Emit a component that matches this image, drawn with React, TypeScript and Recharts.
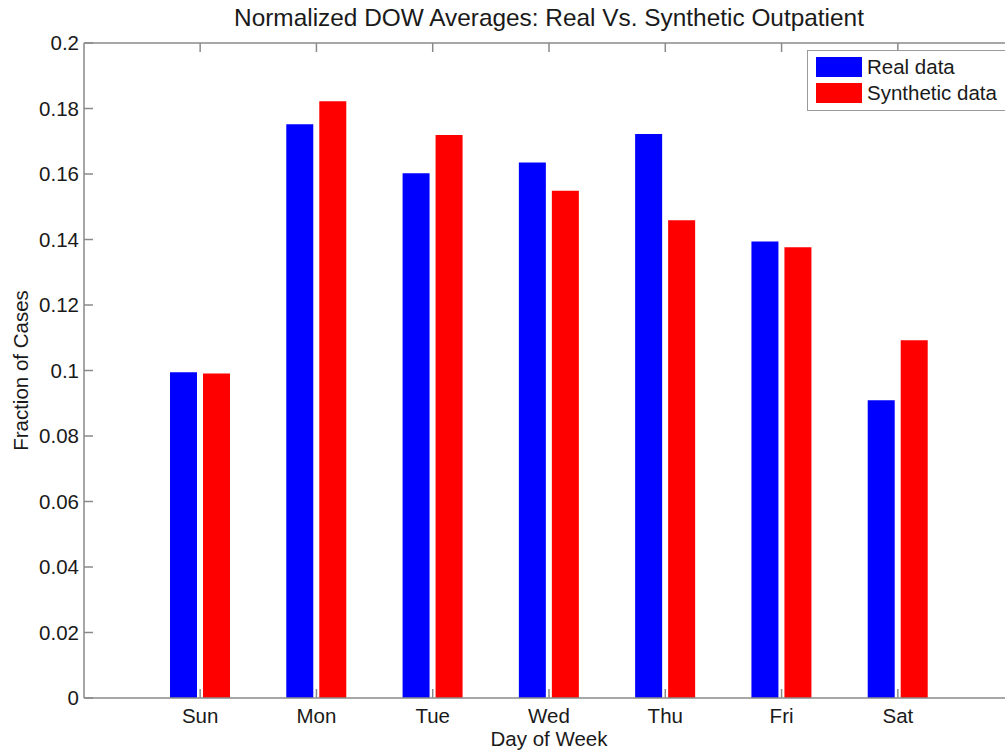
import { BarChart, Bar, XAxis, YAxis, Legend } from 'recharts'

const days = ['Sun', 'Mon', 'Tue', 'Wed', 'Thu', 'Fri', 'Sat']
const realData = [0.0995, 0.1752, 0.1602, 0.1635, 0.1722, 0.1394, 0.0909]
const syntheticData = [0.0991, 0.1822, 0.1719, 0.1549, 0.1459, 0.1376, 0.1092]
const yTicks = [0, 0.02, 0.04, 0.06, 0.08, 0.1, 0.12, 0.14, 0.16, 0.18, 0.2]

const chartData = days.map((day, i) => ({
  day,
  real: realData[i],
  synthetic: syntheticData[i],
}))

const AXIS = '#8a8a8a'
const TEXT = '#1a1a1a'
const FONT = '"Liberation Sans", Arial, sans-serif'
const FS = 20.5
const PAD = { left: 58, right: 58 }
const LINE = { stroke: AXIS, strokeWidth: 1.5 }
const noLabel = () => ''

function LegendBox() {
  const items = [
    { name: 'Real data', color: '#0000ff' },
    { name: 'Synthetic data', color: '#ff0000' },
  ]
  return (
    <div
      style={{
        border: '1px solid #9a9a9a',
        background: '#fff',
        padding: '3px 30px 4px 8px',
        fontSize: FS,
        color: TEXT,
        fontFamily: FONT,
      }}
    >
      {items.map((it) => (
        <div key={it.name} style={{ display: 'flex', alignItems: 'center', height: 26 }}>
          <span style={{ display: 'inline-block', width: 46, height: 20, background: it.color, marginRight: 5 }} />
          <span>{it.name}</span>
        </div>
      ))}
    </div>
  )
}

export default function App() {
  return (
    <div
      style={{
        position: 'absolute',
        left: 0,
        top: 0,
        width: 1005,
        height: 750,
        overflow: 'hidden',
        background: '#fff',
        fontFamily: FONT,
      }}
    >
      <BarChart
        width={1030}
        height={750}
        data={chartData}
        margin={{ top: 43, right: 16, left: 0, bottom: 0 }}
        barSize={27}
        barGap={6}
      >
        {/* left axis with labels */}
        <YAxis
          domain={[0, 0.2]}
          ticks={yTicks}
          allowDataOverflow
          width={84}
          tickLine={false}
          tickSize={0}
          tickMargin={5}
          axisLine={LINE}
          tick={{ fill: TEXT, fontSize: FS, fontFamily: FONT }}
          tickFormatter={(v: number) => String(+v.toFixed(2))}
          label={{
            value: 'Fraction of Cases',
            angle: -90,
            position: 'insideLeft',
            offset: 21,
            style: { textAnchor: 'middle', fill: TEXT, fontSize: FS, fontFamily: FONT },
          }}
        />
        {/* inward tick marks and box frame */}
        <YAxis
          yAxisId="lm"
          domain={[0, 0.2]}
          ticks={yTicks}
          allowDataOverflow
          mirror
          width={1}
          tickFormatter={noLabel}
          tickSize={9}
          axisLine={false}
          tickLine={LINE}
        />
        <YAxis
          yAxisId="r"
          orientation="right"
          domain={[0, 0.2]}
          ticks={yTicks}
          allowDataOverflow
          mirror
          width={1}
          tickFormatter={noLabel}
          tickSize={9}
          axisLine={LINE}
          tickLine={LINE}
        />
        <XAxis
          dataKey="day"
          padding={PAD}
          height={52}
          tickLine={false}
          tickSize={0}
          tickMargin={10}
          axisLine={LINE}
          tick={{ fill: TEXT, fontSize: FS, fontFamily: FONT }}
          label={{
            value: 'Day of Week',
            position: 'insideBottom',
            offset: 4,
            style: { fill: TEXT, fontSize: FS, fontFamily: FONT },
          }}
        />
        <XAxis
          xAxisId="bm"
          dataKey="day"
          padding={PAD}
          mirror
          height={1}
          tickFormatter={noLabel}
          tickSize={9}
          axisLine={false}
          tickLine={LINE}
        />
        <XAxis
          xAxisId="t"
          dataKey="day"
          orientation="top"
          padding={PAD}
          mirror
          height={1}
          tickFormatter={noLabel}
          tickSize={9}
          axisLine={LINE}
          tickLine={LINE}
          label={{
            value: 'Normalized DOW Averages: Real Vs. Synthetic Outpatient',
            position: 'top',
            offset: 17,
            style: { fill: TEXT, fontSize: 24.4, fontFamily: FONT },
          }}
        />
        <Legend
          layout="horizontal"
          verticalAlign="middle"
          align="center"
          content={() => <LegendBox />}
          wrapperStyle={{ left: 807, top: 50, width: 'auto' }}
        />
        <Bar dataKey="real" name="Real data" fill="#0000ff" isAnimationActive={false} />
        <Bar dataKey="synthetic" name="Synthetic data" fill="#ff0000" isAnimationActive={false} />
      </BarChart>
    </div>
  )
}
